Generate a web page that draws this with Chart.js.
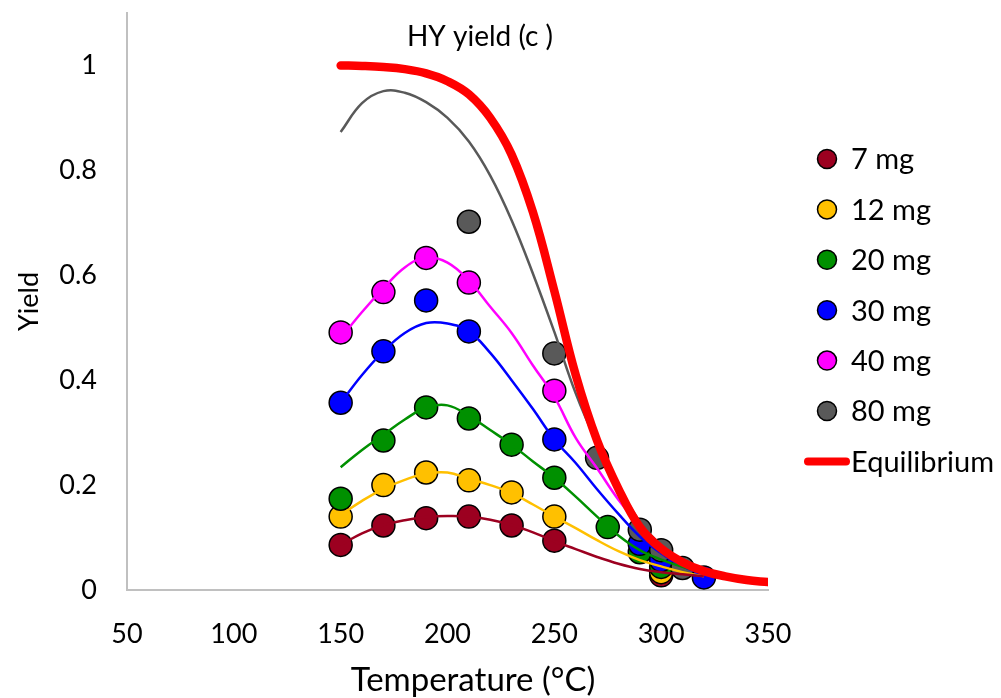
<!DOCTYPE html>
<html>
<head>
<meta charset="utf-8">
<title>HY yield (c )</title>
<script src="https://cdn.jsdelivr.net/npm/chart.js@4.4.0/dist/chart.umd.min.js"></script>
<style>
  html, body { margin: 0; padding: 0; background: #fff; }
  #wrap { width: 1001px; height: 698px; position: relative; }
</style>
</head>
<body>
<div id="wrap"><canvas id="yieldChart"></canvas></div>
<script>
// measured yields (temperature in °C)
const t7  = [150, 170, 190, 210, 230, 250, 300];
const y7  = [0.086, 0.123, 0.137, 0.140, 0.123, 0.094, 0.028];
const t12 = [150, 170, 190, 210, 230, 250, 300];
const y12 = [0.140, 0.200, 0.224, 0.209, 0.186, 0.140, 0.034];
const t20 = [150, 170, 190, 210, 230, 250, 275, 290, 300];
const y20 = [0.174, 0.285, 0.348, 0.327, 0.277, 0.214, 0.120, 0.072, 0.044];
const t30 = [150, 170, 190, 210, 250, 290, 300, 320];
const y30 = [0.357, 0.455, 0.552, 0.493, 0.287, 0.088, 0.057, 0.024];
const t40 = [150, 170, 190, 210, 250];
const y40 = [0.491, 0.568, 0.633, 0.586, 0.380];
const t80 = [210, 250, 270, 290, 300, 310];
const y80 = [0.702, 0.451, 0.252, 0.115, 0.076, 0.042];

// model curves
const fitTemps = [150, 160, 170, 180, 190, 200, 210, 220, 230, 240, 250, 260, 270, 280, 290, 300, 310, 320];
const fit7  = [0.086, 0.108, 0.124, 0.133, 0.139, 0.141, 0.140, 0.134, 0.124, 0.110, 0.093, 0.078, 0.063, 0.050, 0.040, 0.034, 0.030, 0.026];
const fit12 = [0.143, 0.170, 0.193, 0.210, 0.222, 0.224, 0.212, 0.200, 0.185, 0.163, 0.140, 0.118, 0.095, 0.074, 0.057, 0.045, 0.034, 0.026];
const fit20 = [0.234, 0.267, 0.296, 0.325, 0.348, 0.352, 0.332, 0.305, 0.277, 0.245, 0.214, 0.178, 0.140, 0.104, 0.076, 0.058, 0.044, 0.033];
const fit30 = [0.357, 0.410, 0.455, 0.490, 0.509, 0.508, 0.493, 0.452, 0.400, 0.345, 0.287, 0.242, 0.192, 0.145, 0.102, 0.070, 0.045, 0.030];
const fit40 = [0.480, 0.530, 0.575, 0.615, 0.634, 0.624, 0.590, 0.540, 0.490, 0.428, 0.368, 0.290, 0.232, 0.172, 0.122, 0.080, 0.050, 0.030];
const fit80 = [0.873, 0.928, 0.951, 0.948, 0.930, 0.900, 0.855, 0.790, 0.705, 0.603, 0.492, 0.375, 0.280, 0.200, 0.130, 0.085, 0.055, 0.035];

const eqTemps = [150, 160, 170, 180, 190, 200, 210, 220, 230, 240, 250, 260, 270, 280, 290, 300, 310, 320, 330, 340, 350];
const eqYield = [1.0, 0.999, 0.997, 0.993, 0.985, 0.970, 0.945, 0.900, 0.830, 0.72, 0.57, 0.41, 0.285, 0.193, 0.12, 0.079, 0.053, 0.036, 0.026, 0.019, 0.015];

const seriesLabels = ['7 mg', '12 mg', '20 mg', '30 mg', '40 mg', '80 mg'];
const xTickValues = [50, 100, 150, 200, 250, 300, 350];
const yTickValues = [0, 0.2, 0.4, 0.6, 0.8, 1];

const colors = ['#9c0020', '#ffc000', '#009000', '#0000ff', '#ff00ff', '#595959'];
const measured = [[t7, y7], [t12, y12], [t20, y20], [t30, y30], [t40, y40], [t80, y80]];
const fits = [fit7, fit12, fit20, fit30, fit40, fit80];

const pts = (xs, ys) => xs.map((x, i) => ({ x: x, y: ys[i] }));

const datasets = [];
measured.forEach(function(m, i) {
    datasets.push({
        label: seriesLabels[i],
        data: pts(m[0], m[1]),
        backgroundColor: colors[i],
        borderColor: '#000',
        borderWidth: 1.5,
        pointRadius: 11.5,
        order: 8 - i,
        legendRow: i
    });
});
datasets.push({
    label: 'Equilibrium',
    data: pts(eqTemps, eqYield),
    showLine: true,
    borderColor: '#ff0000',
    borderWidth: 8.5,
    borderCapStyle: 'round',
    pointRadius: 0,
    tension: 0.4,
    order: 0,
    legendRow: 6
});
fits.forEach(function(f, i) {
    datasets.push({
        label: seriesLabels[i] + ' model',
        data: pts(fitTemps, f),
        showLine: true,
        borderColor: colors[i],
        borderWidth: 2.5,
        pointRadius: 0,
        tension: 0.4,
        order: 1
    });
});

// title, x title and legend drawn on top of the plot, as in the original
const overlay = {
    id: 'overlay',
    afterDraw(chart) {
        const ctx = chart.ctx;
        ctx.save();
        ctx.fillStyle = '#000';
        ctx.textBaseline = 'middle';
        ctx.textAlign = 'center';
        ctx.font = '28px Lato';
        ctx.fillText('HY yield (c )', 480, 37);
        ctx.font = '33px Lato';
        ctx.fillText('Temperature (\u00B0C)', 473, 680);

        ctx.textAlign = 'left';
        ctx.font = '29px Lato';
        chart.data.datasets.forEach(function(ds) {
            if (ds.legendRow === undefined) return;
            const y = 159 + ds.legendRow * 50.4;
            if (ds.showLine) {
                ctx.strokeStyle = ds.borderColor;
                ctx.lineWidth = 8;
                ctx.lineCap = 'round';
                ctx.beginPath();
                ctx.moveTo(808, y);
                ctx.lineTo(846, y);
                ctx.stroke();
            } else {
                ctx.fillStyle = ds.backgroundColor;
                ctx.strokeStyle = '#000';
                ctx.lineWidth = 1.5;
                ctx.beginPath();
                ctx.arc(827, y, 9.5, 0, Math.PI * 2);
                ctx.fill();
                ctx.stroke();
            }
            ctx.fillStyle = '#000';
            ctx.fillText(ds.label, 851, y + 1);
        });
        ctx.restore();
    }
};

Chart.defaults.font.family = 'Lato';
Chart.defaults.color = '#000';

new Chart(document.getElementById('yieldChart'), {
    type: 'scatter',
    data: { datasets: datasets },
    options: {
        responsive: true,
        maintainAspectRatio: false,
        animation: false,
        layout: { padding: { top: 12, right: 233, bottom: 0, left: 0 } },
        plugins: {
            legend: { display: false },
            tooltip: { enabled: false }
        },
        scales: {
            x: {
                min: 50,
                max: 350,
                grid: { display: false },
                border: { color: '#c0c0c0', width: 2 },
                afterBuildTicks: function(s) { s.ticks = xTickValues.map(v => ({ value: v })); },
                afterFit: function(s) { s.height = 108; s.paddingLeft = 0; s.paddingRight = 0; },
                ticks: { font: { size: 27 }, padding: 20, maxRotation: 0 }
            },
            y: {
                min: 0,
                max: 1.1,
                grid: { display: false },
                border: { color: '#c0c0c0', width: 2 },
                afterBuildTicks: function(s) { s.ticks = yTickValues.map(v => ({ value: v })); },
                afterFit: function(s) { s.width = 127; s.paddingTop = 0; s.paddingBottom = 0; },
                ticks: {
                    font: { size: 27 },
                    padding: 22,
                    callback: function(v) { return String(+v.toFixed(1)); }
                },
                title: { display: true, text: 'Yield', font: { size: 27 }, padding: { top: 13, bottom: 0 } }
            }
        }
    },
    plugins: [overlay]
});
</script>
</body>
</html>
